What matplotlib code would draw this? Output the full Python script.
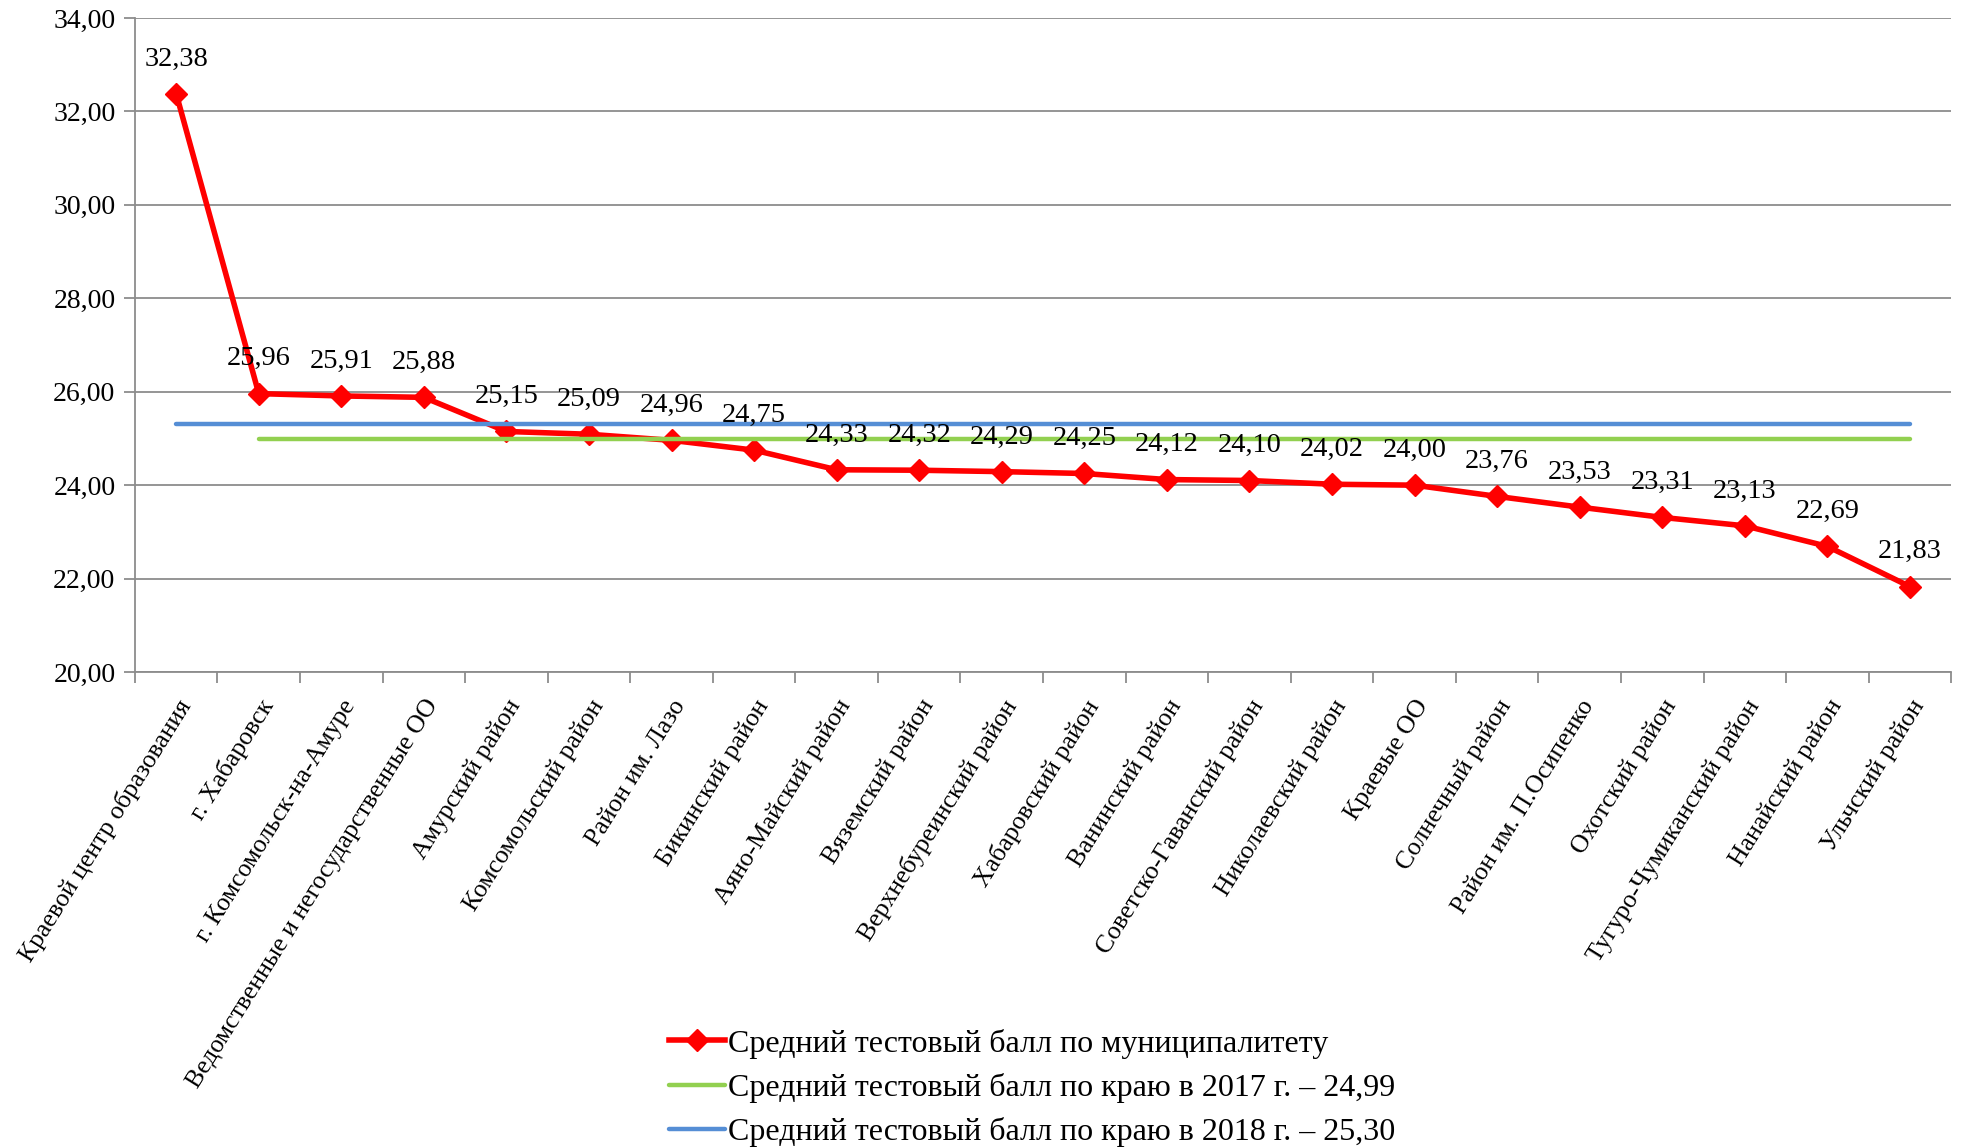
import numpy as np
import matplotlib
matplotlib.use("Agg")
import matplotlib.pyplot as plt
from matplotlib.ticker import FixedLocator, FuncFormatter

plt.rcParams["font.family"] = ["Liberation Serif", "DejaVu Serif"]

# categories and values
municipalities = [
    "Краевой центр образования", "г. Хабаровск", "г. Комсомольск-на-Амуре",
    "Ведомственные и негосударственные ОО", "Амурский район",
    "Комсомольский район", "Район им. Лазо", "Бикинский район",
    "Аяно-Майский район", "Вяземский район", "Верхнебуреинский район",
    "Хабаровский район", "Ванинский район", "Советско-Гаванский район",
    "Николаевский район", "Краевые ОО", "Солнечный район",
    "Район им. П.Осипенко", "Охотский район", "Тугуро-Чумиканский район",
    "Нанайский район", "Ульчский район",
]
scores = [32.38, 25.96, 25.91, 25.88, 25.15, 25.09, 24.96, 24.75, 24.33,
          24.32, 24.29, 24.25, 24.12, 24.10, 24.02, 24.00, 23.76, 23.53,
          23.31, 23.13, 22.69, 21.83]
avg_2017 = 24.99
avg_2018 = 25.30

label_main = "Средний тестовый балл по муниципалитету"
label_2017 = "Средний тестовый балл по краю в 2017 г. – 24,99"
label_2018 = "Средний тестовый балл по краю в 2018 г. – 25,30"


def comma(v, pos=None):
    return f"{v:.2f}".replace(".", ",")


fig = plt.figure(figsize=(19.61, 11.48), dpi=100)
ax = fig.add_axes([0.0688, 0.4146, 0.9262, 0.5697])

x = np.arange(len(scores))
line_main, = ax.plot(x, scores, color="#FF0000", lw=4, marker="D",
                     ms=11, zorder=3, label=label_main)
# the 2017 series starts at the second category in the source
line_2017, = ax.plot(x[1:], [avg_2017] * (len(x) - 1), color="#92D050",
                     lw=3.2, solid_capstyle="round", zorder=4, label=label_2017)
line_2018, = ax.plot(x, [avg_2018] * len(x), color="#558ED5", lw=3.2,
                     solid_capstyle="round", zorder=5, label=label_2018)

for xi, v in zip(x, scores):
    ax.annotate(comma(v), (xi, v), xytext=(0, 25), textcoords="offset points",
                ha="center", va="center", fontsize=20.5, zorder=6)

ax.set_xlim(-0.5, len(x) - 0.5)
ax.set_ylim(20, 34)
ax.set_yticks(np.arange(20, 34.1, 2))
ax.yaxis.set_major_formatter(FuncFormatter(comma))
ax.grid(axis="y", color="#8C8C8C", lw=1.3)
ax.set_axisbelow(True)

ax.xaxis.set_major_locator(FixedLocator(np.arange(-0.5, len(x), 1)))
ax.xaxis.set_major_formatter(FuncFormatter(lambda v, p: ""))
ax.xaxis.set_minor_locator(FixedLocator(x))
ax.set_xticklabels(municipalities, minor=True, rotation=58, ha="right",
                   va="top", rotation_mode="anchor", fontsize=18.5)
ax.tick_params(axis="x", which="minor", length=0, pad=17)
ax.tick_params(axis="x", which="major", length=8, width=1.3, color="#8C8C8C")
ax.tick_params(axis="y", length=8, width=1.3, color="#8C8C8C", labelsize=20,
               pad=6)

for side in ("top", "right"):
    ax.spines[side].set_visible(False)
for side in ("left", "bottom"):
    ax.spines[side].set_color("#8C8C8C")
    ax.spines[side].set_linewidth(1.3)

# legend sits below the rotated labels, roughly centred
fig.legend(handles=[line_main, line_2017, line_2018], loc="upper left",
           bbox_to_anchor=(0.341, 0.104), bbox_transform=fig.transFigure,
           frameon=False, fontsize=23, handlelength=1.75, handletextpad=0.12,
           labelspacing=0.45, borderaxespad=0, borderpad=0)

fig.savefig("out.png", dpi=100)
